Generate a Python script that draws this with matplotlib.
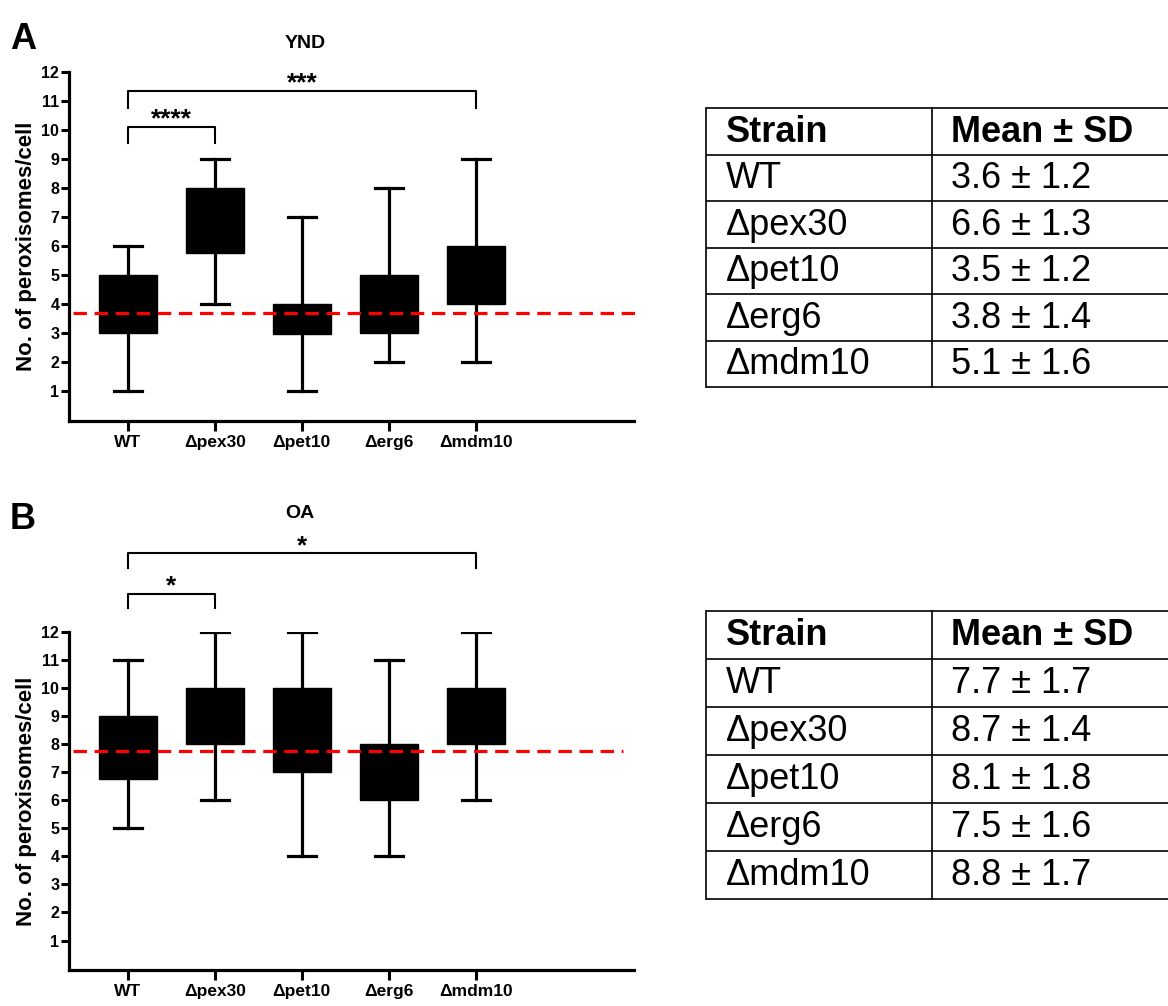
import numpy as np
import matplotlib.pyplot as plt

plt.rcParams['font.family'] = ['Liberation Sans', 'DejaVu Sans']

# data
strains = ['WT', 'Δpex30', 'Δpet10', 'Δerg6', 'Δmdm10']

ynd_min = [1, 4, 1, 2, 2]
ynd_q1 = [3, 5.75, 2.95, 3, 4]
ynd_med = [4, 7, 3.5, 4, 5]
ynd_q3 = [5, 8, 4, 5, 6]
ynd_max = [6, 9, 7, 8, 9]
ynd_ref = 3.67
ynd_table = ['3.6 ± 1.2', '6.6 ± 1.3', '3.5 ± 1.2', '3.8 ± 1.4', '5.1 ± 1.6']
ynd_sig = [(0, 1, '****'), (0, 4, '***')]

oa_min = [5, 6, 4, 4, 6]
oa_q1 = [6.75, 8, 7, 6, 8]
oa_med = [8, 9, 8, 7, 9]
oa_q3 = [9, 10, 10, 8, 10]
oa_max = [11, 12, 12, 11, 12]
oa_ref = 7.74
oa_table = ['7.7 ± 1.7', '8.7 ± 1.4', '8.1 ± 1.8', '7.5 ± 1.6', '8.8 ± 1.7']
oa_sig = [(0, 1, '*'), (0, 4, '*')]

W, H = 1168, 1006
fig = plt.figure(figsize=(W / 100, H / 100), dpi=100)


def px_rect(l, t, r, b):
    return [l / W, 1 - b / H, (r - l) / W, (b - t) / H]


def box_panel(rect, title, title_xy, letter, letter_xy, mins, q1, med, q3, maxs,
              ref, sig, bracket_y, ref_end):
    ax = fig.add_axes(rect)
    stats = []
    for i in range(len(strains)):
        stats.append({'whislo': mins[i], 'q1': q1[i], 'med': med[i],
                      'q3': q3[i], 'whishi': maxs[i], 'fliers': []})
    pos = np.arange(len(strains))
    ax.bxp(stats, positions=pos, widths=0.67, capwidths=0.32, patch_artist=True,
           showfliers=False,
           boxprops=dict(facecolor='black', edgecolor='black', linewidth=1),
           whiskerprops=dict(color='black', linewidth=2.3),
           capprops=dict(color='black', linewidth=2.3),
           medianprops=dict(color='black', linewidth=1))
    ax.hlines(ref, -0.63, ref_end, colors='red', linewidth=2.3,
              linestyles=(0, (4.2, 2.4)), clip_on=False, zorder=5)
    ax.set_xlim(-0.678, 5.82)
    ax.set_ylim(-0.05, 12)
    ax.set_yticks(range(1, 13))
    ax.set_xticks(pos)
    ax.set_xticklabels(strains, fontsize=12.5, fontweight='bold')
    for lab in ax.get_yticklabels():
        lab.set_fontsize(11.5)
        lab.set_fontweight('bold')
    ax.tick_params(axis='y', length=6, width=2.2, pad=1)
    ax.tick_params(axis='x', length=7, width=2.2, pad=3)
    for s in ['top', 'right']:
        ax.spines[s].set_visible(False)
    for s in ['left', 'bottom']:
        ax.spines[s].set_linewidth(2.3)
    ax.set_ylabel('No. of peroxisomes/cell', fontsize=16, fontweight='bold', labelpad=3)
    fig.text(title_xy[0] / W, 1 - title_xy[1] / H, title, ha='center', va='center',
             fontsize=14, fontweight='bold')
    fig.text(letter_xy[0] / W, 1 - letter_xy[1] / H, letter, fontsize=26,
             fontweight='bold', ha='left', va='top')
    for (i, j, stars), (y, leg) in zip(sig, bracket_y):
        ax.plot([i, i, j, j], [leg, y, y, leg], color='black', linewidth=1.5,
                clip_on=False)
        ax.text((i + j) / 2, y + 0.02, stars, ha='center', va='baseline',
                fontsize=19, fontweight='bold', clip_on=False)
    return ax


def table_panel(t, b, values):
    ax = fig.add_axes(px_rect(706, t, 1168, b))
    ax.set_xlim(0, 462)
    ax.set_ylim(6, 0)
    ax.axis('off')
    lw = 1.2
    for r in range(7):
        ax.plot([0, 462], [r, r], color='black', linewidth=lw, clip_on=False,
                solid_capstyle='butt')
    ax.plot([0, 0], [0, 6], color='black', linewidth=lw, clip_on=False)
    ax.plot([226, 226], [0, 6], color='black', linewidth=lw, clip_on=False)
    ax.text(20, 0.52, 'Strain', fontsize=26, fontweight='bold', va='center')
    ax.text(245, 0.52, 'Mean ± SD', fontsize=26, fontweight='bold', va='center')
    for k, (s, v) in enumerate(zip(strains, values)):
        ax.text(20, k + 1.52, s, fontsize=26, va='center')
        ax.text(245, k + 1.52, v, fontsize=26, va='center')


box_panel(px_rect(69, 72, 634, 421), 'YND', (305, 43), 'A', (10, 22),
          ynd_min, ynd_q1, ynd_med, ynd_q3, ynd_max, ynd_ref, ynd_sig,
          [(10.1, 9.55), (11.34, 10.75)], 5.85)
box_panel(px_rect(69, 632, 634, 970), 'OA', (300, 513), 'B', (10, 502),
          oa_min, oa_q1, oa_med, oa_q3, oa_max, oa_ref, oa_sig,
          [(13.35, 12.85), (14.8, 14.27)], 5.69)

table_panel(108, 387, ynd_table)
table_panel(611, 899, oa_table)

fig.savefig('out.png', dpi=100)
